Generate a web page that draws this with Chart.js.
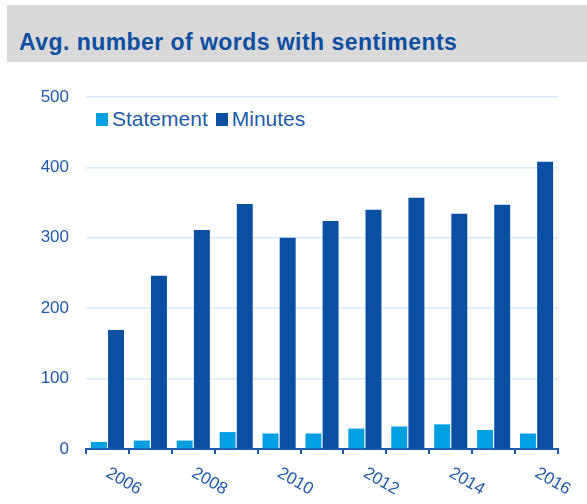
<!DOCTYPE html>
<html>
<head>
<meta charset="utf-8">
<script src="https://cdn.jsdelivr.net/npm/chart.js@4/dist/chart.umd.min.js"></script>
<style>
  body { margin: 0; background: #fff; }
  #wrap { position: relative; width: 587px; height: 504px; overflow: hidden; }
  #title {
    position: absolute; left: 7px; top: 5px; width: 580px; height: 57px;
    background: #d9d9d9; color: #0b4ea2;
    font: bold 23px "Liberation Sans", Arial, sans-serif; letter-spacing: 0.45px;
    box-sizing: border-box; padding-left: 12px; padding-top: 27px; line-height: 20px;
  }
  #legend {
    position: absolute; left: 96px; top: 109px; display: flex;
    font: 21px "Liberation Sans", Arial, sans-serif; color: #1f5ba9;
  }
  .item { display: inline-flex; align-items: center; margin-right: 8px; line-height: 20px; }
  .box { width: 12px; height: 13px; margin-right: 4px; }
  canvas { position: absolute; left: 0; top: 0; }
</style>
</head>
<body>
<div id="wrap">
  <div id="title">Avg. number of words with sentiments</div>
  <div id="legend"></div>
  <canvas id="chart" width="587" height="504"></canvas>
</div>
<script>
const years = ['2006', '2007', '2008', '2009', '2010', '2011', '2012', '2013', '2014', '2015', '2016'];
const statement = [10, 12, 12, 24, 22, 22, 29, 32, 35, 27, 22];
const minutes = [169, 246, 311, 348, 300, 324, 340, 357, 334, 347, 408];
const yTicks = [0, 100, 200, 300, 400, 500];

const textBlue = '#1f5ba9';
const axisBlue = '#1d5aab';

// year labels go down to the right, which chart.js can't rotate that way
const yearLabels = {
  id: 'yearLabels',
  afterDraw(chart) {
    const xs = chart.scales.x;
    const ctx = chart.ctx;
    ctx.save();
    ctx.font = '17px "Liberation Sans", Arial, sans-serif';
    ctx.fillStyle = textBlue;
    ctx.textAlign = 'left';
    ctx.textBaseline = 'alphabetic';
    years.forEach((y, i) => {
      if (i % 2) return;
      const px = xs.getPixelForValue(i);
      ctx.save();
      ctx.translate(px - 2.5, xs.top + 27);
      ctx.rotate(Math.PI / 6);
      ctx.fillText(y, 0, 0);
      ctx.restore();
    });
    ctx.restore();
  }
};

const chart = new Chart(document.getElementById('chart'), {
  type: 'bar',
  data: {
    labels: years,
    datasets: [
      { label: 'Statement', data: statement, backgroundColor: '#00a0e3' },
      { label: 'Minutes', data: minutes, backgroundColor: '#0b4fa3' }
    ]
  },
  options: {
    responsive: false,
    animation: false,
    datasets: { bar: { categoryPercentage: 0.8, barPercentage: 0.93 } },
    layout: { padding: { top: 97, right: 29, left: 0, bottom: 0 } },
    plugins: { legend: { display: false }, tooltip: { enabled: false } },
    scales: {
      x: {
        offset: true,
        grid: { offset: true, drawOnChartArea: false, drawTicks: true, tickLength: 5, color: axisBlue, lineWidth: 2 },
        border: { color: axisBlue, width: 2 },
        ticks: { display: false },
        afterFit(scale) { scale.height = 55; }
      },
      y: {
        min: 0,
        max: 500,
        afterBuildTicks(scale) { scale.ticks = yTicks.map(v => ({ value: v })); },
        grid: { color: '#d6ebf7', lineWidth: 1.5, drawTicks: false },
        border: { display: false },
        ticks: { color: textBlue, padding: 17, font: { family: '"Liberation Sans", Arial, sans-serif', size: 17 } },
        afterFit(scale) { scale.width = 86; }
      }
    }
  },
  plugins: [yearLabels]
});

const legend = document.getElementById('legend');
chart.data.datasets.forEach(ds => {
  const item = document.createElement('span');
  item.className = 'item';
  const box = document.createElement('span');
  box.className = 'box';
  box.style.background = ds.backgroundColor;
  item.appendChild(box);
  item.appendChild(document.createTextNode(ds.label));
  legend.appendChild(item);
});
</script>
</body>
</html>
